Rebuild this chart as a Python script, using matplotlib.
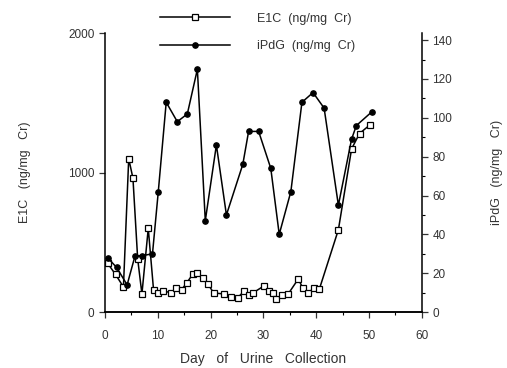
import matplotlib.pyplot as plt
import numpy as np

# E1C (squares, left axis)
e1c_day = [0.5, 2, 3.5, 4.5, 5.3, 6.2, 7, 8.2, 9.2, 10, 11, 12.5, 13.5, 14.5, 15.5,
           16.6, 17.5, 18.5, 19.5, 20.6, 22.5, 23.8, 25.1, 26.3, 27.2, 28, 30.1, 31,
           31.8, 32.4, 33.5, 34.7, 36.6, 37.5, 38.5, 39.5, 40.6, 44.2, 46.7, 48.2, 50.1]
e1c = [350, 270, 180, 1100, 960, 380, 130, 600, 160, 140, 150, 140, 170, 160, 210,
       270, 280, 245, 200, 137, 130, 110, 100, 150, 120, 137, 187, 150,
       137, 94, 120, 130, 237, 170, 137, 170, 165, 590, 1170, 1280, 1340]

# iPdG (filled circles, right axis)
pdg_day = [0.5, 2.2, 4.2, 5.7, 7.0, 9.0, 10.1, 11.6, 13.7, 15.6, 17.5, 19.0, 21.1,
           23.0, 26.1, 27.2, 29.1, 31.4, 33.0, 35.2, 37.3, 39.4, 41.5, 44.2, 46.7,
           47.6, 50.5]
pdg = [28, 23, 14, 29, 29, 30, 62, 108, 98, 102, 125, 47, 86,
       50, 76, 93, 93, 74, 40, 62, 108, 113, 105, 55, 89,
       96, 103]

plt.rcParams['font.family'] = ['Liberation Sans', 'DejaVu Sans']

fig = plt.figure(figsize=(5.07, 3.68), dpi=100)
ax = fig.add_axes([0.207, 0.152, 0.625, 0.758])
l1, = ax.plot(e1c_day, e1c, color='black', lw=1.1, marker='s', ms=4.5,
              mfc='white', mec='black', mew=0.9, label='E1C  (ng/mg  Cr)')
ax.set_xlim(0, 60)
ax.set_ylim(0, 2000)
ax.set_yticks([0, 1000, 2000])
ax.set_xticks(np.arange(0, 61, 10))
ax.set_xticks(np.arange(0, 61, 5), minor=True)
ax.spines['top'].set_visible(False)
ax.spines['right'].set_visible(False)
ax.tick_params(labelsize=8.5, length=4, width=0.9, color='#333333', labelcolor='#333333')
ax.tick_params(axis='x', pad=9)
ax.tick_params(which='minor', length=2.5, width=0.8)
ax.set_xlabel('Day   of   Urine   Collection', fontsize=10, color='#333333', labelpad=7)
ax.set_ylabel('E1C   (ng/mg   Cr)', fontsize=9, color='#333333', labelpad=27)

ax2 = ax.twinx()
l2, = ax2.plot(pdg_day, pdg, color='black', lw=1.1, marker='o', ms=3.8,
               mfc='black', mec='black', label='iPdG  (ng/mg  Cr)')
ax2.set_ylim(0, 143.6)
ax2.set_yticks(np.arange(0, 141, 20))
ax2.set_yticks(np.arange(0, 141, 10), minor=True)
ax2.spines['top'].set_visible(False)
ax2.spines['left'].set_visible(False)
ax2.tick_params(labelsize=8.5, length=4, width=0.9, color='#333333', labelcolor='#333333')
ax2.tick_params(which='minor', length=2.5, width=0.8)
ax2.set_ylabel('iPdG   (ng/mg   Cr)', fontsize=9, color='#333333', labelpad=28)

for a in (ax, ax2):
    for s in a.spines.values():
        s.set_linewidth(1.1)

fig.legend(handles=[l1, l2], loc='upper left', bbox_to_anchor=(0.304, 0.983),
           frameon=False, fontsize=9, handlelength=5.6, handletextpad=2.1,
           labelspacing=1.25, borderpad=0, labelcolor='#333333')

plt.savefig('out.png', dpi=100)
